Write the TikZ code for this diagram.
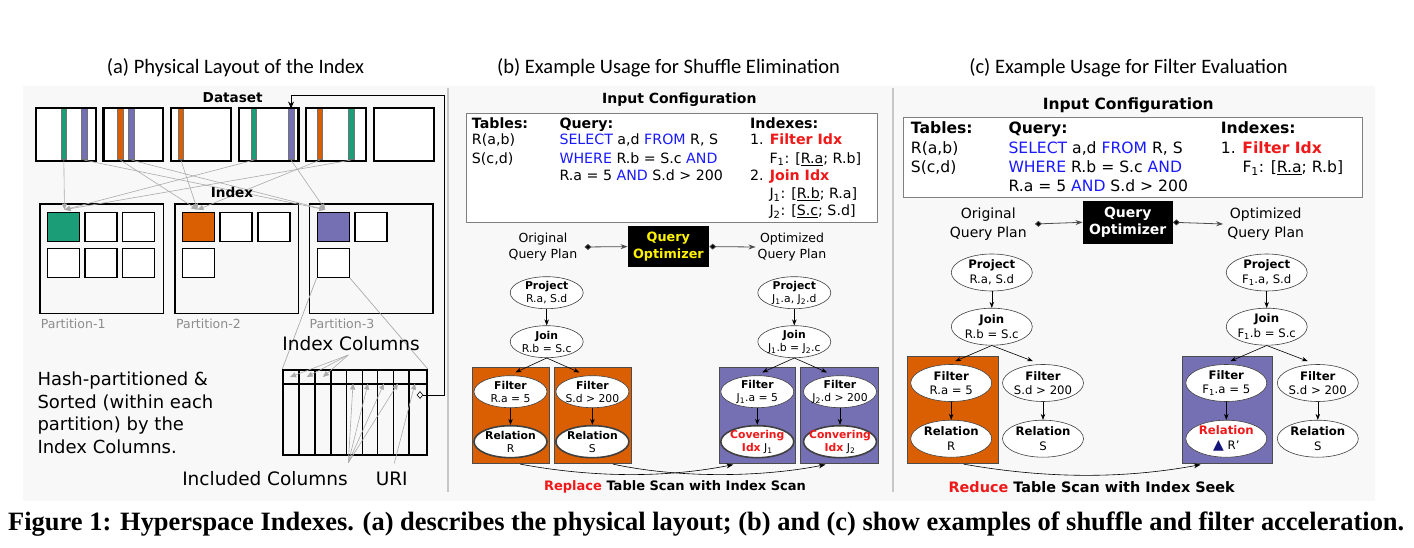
\documentclass[tikz,border=0pt]{standalone}
\usepackage{fontspec}
\setmainfont{DejaVu Sans}
\newfontfamily\titlefont{Carlito}
\newfontfamily\capfont{Liberation Serif}
\usetikzlibrary{shapes.geometric,arrows.meta,calc}
\definecolor{cgreen}{HTML}{1B9E77}
\definecolor{corange}{HTML}{D95F02}
\definecolor{cpurple}{HTML}{7570B3}
\definecolor{bgc}{HTML}{F8F8F8}
\definecolor{kwblue}{HTML}{1A1AFF}
\definecolor{kwred}{HTML}{F01818}
\definecolor{navyc}{HTML}{14147A}
\definecolor{gline}{HTML}{ABABAB}
\newcommand{\fsz}[2]{\fontsize{#1}{#2}\selectfont}
\begin{document}
\begin{tikzpicture}[x=1pt,y=-1pt,
  dbox/.style={draw=black, line width=1.5pt, fill=white, minimum width=59pt, minimum height=52pt, inner sep=0pt, anchor=north west},
  stripe/.style={draw=black!55, line width=0.6pt, minimum width=5.5pt, minimum height=51pt, inner sep=0pt, anchor=north west},
  pbox/.style={draw=black, line width=1.6pt, minimum width=123.5pt, minimum height=109.4pt, inner sep=0pt, anchor=north west},
  sq/.style={draw=black, line width=1.5pt, fill=white, minimum width=32pt, minimum height=29pt, inner sep=0pt, anchor=north west},
  garrow/.style={draw=gline, line width=0.6pt, -{Triangle[length=6pt,width=5pt]}},
  gline/.style={draw=gline, line width=0.7pt},
  txt/.style={anchor=base west, inner sep=0pt},
  ctr/.style={anchor=base, inner sep=0pt},
  ellb/.style={ellipse, draw=black!75, line width=0.6pt, fill=white, minimum width=73pt, minimum height=32pt, inner sep=0pt},
  lblb/.style={align=center, font=\fsz{10.8}{13.3}, inner sep=0pt},
  ellc/.style={ellipse, draw=black!75, line width=0.6pt, fill=white, minimum width=81pt, minimum height=37pt, inner sep=0pt},
  lblc/.style={align=center, font=\fsz{11.7}{14.7}, inner sep=0pt},
  obox/.style={draw=black!70, line width=0.8pt, fill=corange, anchor=north west, minimum width=77pt, minimum height=96.6pt, inner sep=0pt},
  ubox/.style={draw=black!70, line width=0.8pt, fill=cpurple, anchor=north west, minimum width=76.3pt, minimum height=96.6pt, inner sep=0pt},
  tarrow/.style={draw=black, line width=0.6pt, -{Stealth[length=6pt,width=4.5pt]}},
  qarrow/.style={draw=black!70, line width=0.8pt, {Diamond[length=7pt,width=6pt,fill=black]}-{Stealth[length=7pt,width=5pt]}},
  qopt/.style={fill=black, inner sep=0pt, align=center},
  cfgbox/.style={draw=black!50, line width=1pt, fill=white},
  scan/.style={draw=black, line width=0.6pt, -{Stealth[length=7pt,width=5pt]}}
]
\useasboundingbox (0,0) rectangle (1414,548);
% background
\fill[bgc] (23,86) rectangle (1375,501);
\draw[black!22, line width=1.5pt] (448,88) -- (448,492);
\draw[black!22, line width=1.5pt] (893,88) -- (893,492);

% titles
\node[ctr, font=\titlefont\fsz{20.5}{24}] (tA) at (235.5,74) {(a) Physical Layout of the Index};
\node[ctr, font=\titlefont\fsz{20.5}{24}] (tB) at (668.5,74) {(b) Example Usage for Shuffle Elimination};
\node[ctr, font=\titlefont\fsz{20.5}{24}] (tC) at (1128.5,74) {(c) Example Usage for Filter Evaluation};

% ================= Panel (a) =================
\foreach \i in {0,...,5} \node[dbox] (ds\i) at ({35.5+67.6*\i},108) {};
\node[stripe, fill=cgreen]  (g1) at (60.8,108.5) {};
\node[stripe, fill=cpurple] (p1) at (81.2,108.5) {};
\node[stripe, fill=corange] (o2) at (117.3,108.5) {};
\node[stripe, fill=cpurple] (p2) at (128.4,108.5) {};
\node[stripe, fill=corange] (o3) at (177.8,108.5) {};
\node[stripe, fill=cgreen]  (g4) at (250.7,108.5) {};
\node[stripe, fill=cpurple] (p4) at (288,108.5) {};
\node[stripe, fill=corange] (o5) at (316.8,108.5) {};
\node[stripe, fill=cgreen]  (g5) at (348,108.5) {};
\foreach \i in {0,...,5} \draw[line width=1.5pt] (ds\i.north west) rectangle (ds\i.south east);

\node[pbox] (P1) at (39,203.3) {};
\node[pbox] (P2) at (174,203.3) {};
\node[pbox] (P3) at (308.7,203.3) {};
% squares partition 1
\node[sq, fill=cgreen] (sG) at (46.7,211.7) {};
\node[sq] (s1b) at (84,211.7) {};
\node[sq] (s1c) at (121.7,211.7) {};
\node[sq] (s1d) at (46.7,247.7) {};
\node[sq] (s1e) at (84,247.7) {};
\node[sq] (s1f) at (121.7,247.7) {};
% partition 2
\node[sq, fill=corange] (sO) at (181.7,211.7) {};
\node[sq] (s2b) at (219.3,211.7) {};
\node[sq] (s2c) at (257,211.7) {};
\node[sq] (s2d) at (181.7,247.7) {};
% partition 3
\node[sq, fill=cpurple] (sP) at (316.5,211.7) {};
\node[sq] (s3b) at (354,211.7) {};
\node[sq] (sPb) at (316.5,247.7) {};

\coordinate (tG) at ($(sG.north)+(1,-2)$);
\coordinate (tO) at ($(sO.north)+(-1,-2)$);
\coordinate (tP) at ($(sP.north)+(-8,-2)$);
\draw[garrow] (g1.south) -- (tG);
\draw[garrow] (g4.south) -- (tG);
\draw[garrow] (g5.south) -- (tG);
\draw[garrow] (o2.south) -- (tO);
\draw[garrow] (o3.south) -- (tO);
\draw[garrow] (o5.south) -- (tO);
\draw[garrow] (p1.south) -- (tP);
\draw[garrow] (p2.south) -- (tP);
\draw[garrow] (p4.south) -- (tP);

\node[ctr, font=\bfseries\fsz{13.6}{16}] (dsT) at (232.7,102.7) {Dataset};
\node[ctr, font=\bfseries\fsz{13.6}{16}] (ixT) at (232,197.3) {Index};

\node[txt, font=\fsz{12.5}{15}, text=black!45] (lp1) at (40.7,328.3) {Partition-1};
\node[txt, font=\fsz{12.5}{15}, text=black!45] (lp2) at (176,328.3) {Partition-2};
\node[txt, font=\fsz{12.5}{15}, text=black!45] (lp3) at (309.5,328.3) {Partition-3};

% index table
\node[draw, line width=1.8pt, minimum width=143.7pt, minimum height=85pt, anchor=north west, inner sep=0pt] (itab) at (282.3,369) {};
\foreach \xx in {299,315,331,346.7,362.3,377.7,393.3,409} \draw[line width=1.4pt] (\xx,369) -- (\xx,454);
\draw[line width=1.4pt] (itab.west |- 0,384) -- (itab.east |- 0,384);
\draw[gline] (sPb.south west) -- (itab.north west);
\draw[gline] (sPb.south east) -- (itab.north east);

\node[ctr, font=\fsz{18.5}{22}] (icT) at (351,350.7) {Index Columns};
\node[ctr, font=\fsz{18.5}{22}] (inT) at (265,485) {Included Columns};
\node[ctr, font=\fsz{18.5}{22}] (uriT) at (391.7,485) {URI};
\coordinate (icS) at (348.3,355);
\coordinate (inS) at (348.3,462.7);
\coordinate (urS) at (394.3,463.3);
\foreach \xx in {290,306.7,323} \draw[garrow] (icS) -- (\xx,377);
\foreach \xx in {353,368,384,398} \draw[garrow] (inS) -- (\xx,383.5);
\draw[garrow] (urS) -- (415,383.5);

\node[diamond, draw=black, line width=0.6pt, fill=white, minimum width=6pt, minimum height=7pt, inner sep=0pt] (uriD) at (420,395) {};
\draw[line width=0.9pt, -{Stealth[length=7pt,width=6pt]}] (uriD.east) -- (444,395) |- (p4.north |- 0,95) -- (p4.north);

\node[txt, font=\fsz{18}{22.5}] (h1) at (37.3,385.7) {Hash-partitioned \&};
\node[txt, font=\fsz{18}{22.5}] (h2) at (37.3,408.2) {Sorted (within each};
\node[txt, font=\fsz{18}{22.5}] (h3) at (37.3,430.7) {partition) by the};
\node[txt, font=\fsz{18}{22.5}] (h4) at (37.3,453.2) {Index Columns.};

% ================= Panel (b) =================
\node[ctr, font=\bfseries\fsz{14}{17}] (icB) at (679.3,103.3) {Input Configuration};
\node[cfgbox, minimum width=411.6pt, minimum height=108.4pt, anchor=north west, inner sep=0pt] (cfgB) at (465.7,113.3) {};
\begin{scope}[every node/.append style={font=\fsz{14.2}{17}}]
\node[txt] (bT1) at (471.7,128.3) {\bfseries Tables:};
\node[txt] (bT2) at (471.7,145) {R(a,b)};
\node[txt] (bT3) at (471.7,163.3) {S(c,d)};
\node[txt] (bQ1) at (559.3,128.3) {\bfseries Query:};
\node[txt] (bQ2) at (559.3,145) {{\color{kwblue}SELECT} a,d {\color{kwblue}FROM} R, S};
\node[txt] (bQ3) at (559.3,163.3) {{\color{kwblue}WHERE} R.b = S.c {\color{kwblue}AND}};
\node[txt] (bQ4) at (559.3,180.7) {R.a = 5 {\color{kwblue}AND} S.d > 200};
\node[txt] (bI1) at (750,128.3) {\bfseries Indexes:};
\node[txt] (bI2) at (750,145) {1. {\bfseries\color{kwred}Filter Idx}};
\node[txt] (bI3) at (769.3,163.3) {F\textsubscript{1}: [\underline{R.a}; R.b]};
\node[txt] (bI4) at (750,180.7) {2. {\bfseries\color{kwred}Join Idx}};
\node[txt] (bI5) at (769.3,199) {J\textsubscript{1}: [\underline{R.b}; R.a]};
\node[txt] (bI6) at (769.3,216) {J\textsubscript{2}: [\underline{S.c}; S.d]};
\end{scope}

\node[qopt, minimum width=81.3pt, minimum height=41.3pt, font=\bfseries\fsz{12.8}{16.5}, text=yellow] (qoB) at (668.4,246.6) {Query\\Optimizer};
\node[align=center, inner sep=0pt, font=\fsz{12.5}{16.7}] (origB) at (543,247) {Original\\Query Plan};
\node[align=center, inner sep=0pt, font=\fsz{12.5}{16.7}] (optB) at (792,247) {Optimized\\Query Plan};
\draw[qarrow] ($(origB.east)+(7,0)$ |- qoB) -- (qoB.west);
\draw[qarrow] (qoB.east) -- ($(optB.west)+(-2,0)$ |- qoB);

% left tree b
\node[obox] (oB1) at (472.3,366.7) {};
\node[obox] (oB2) at (554,366.7) {};
\node[ellb, label={[lblb]center:{\textbf{Project}\\R.a, S.d}}] (pjBL) at (546.7,292.7) {};
\node[ellb, label={[lblb]center:{\textbf{Join}\\R.b = S.c}}] (jnBL) at (546.7,341.7) {};
\node[ellb, label={[lblb]center:{\textbf{Filter}\\R.a = 5}}] (flBL1) at (510.5,391.7) {};
\node[ellb, label={[lblb]center:{\textbf{Filter}\\S.d > 200}}] (flBL2) at (592.4,391.7) {};
\node[ellb, line width=1.6pt, label={[lblb]center:{\textbf{Relation}\\R}}] (rlBL1) at (510.5,441.7) {};
\node[ellb, line width=1.6pt, label={[lblb]center:{\textbf{Relation}\\S}}] (rlBL2) at (592.4,441.7) {};
\draw[tarrow] (pjBL.south) -- (jnBL.north);
\draw[tarrow] (jnBL.south) -- ($(flBL1.north)+(5,-3)$);
\draw[tarrow] (jnBL.south) -- ($(flBL2.north)+(-13,-3)$);
\draw[tarrow] (flBL1.south) -- (rlBL1.north);
\draw[tarrow] (flBL2.south) -- (rlBL2.north);

% right tree b
\node[ubox] (pB1) at (718.7,366.7) {};
\node[ubox, minimum width=77.7pt] (pB2) at (800.3,366.7) {};
\node[ellb, label={[lblb]center:{\textbf{Project}\\J\textsubscript{1}.a, J\textsubscript{2}.d}}] (pjBR) at (794.3,292.7) {};
\node[ellb, label={[lblb]center:{\textbf{Join}\\J\textsubscript{1}.b = J\textsubscript{2}.c}}] (jnBR) at (794.3,341.7) {};
\node[ellb, label={[lblb]center:{\textbf{Filter}\\J\textsubscript{1}.a = 5}}] (flBR1) at (757.3,391.7) {};
\node[ellb, label={[lblb]center:{\textbf{Filter}\\J\textsubscript{2}.d > 200}}] (flBR2) at (840,391.7) {};
\node[ellb, line width=1.6pt, label={[lblb]center:{\textbf{\color{kwred}Covering}\\{\bfseries\color{kwred}Idx} J\textsubscript{1}}}] (rlBR1) at (757.3,441.7) {};
\node[ellb, line width=1.6pt, label={[lblb]center:{\textbf{\color{kwred}Convering}\\{\bfseries\color{kwred}Idx} J\textsubscript{2}}}] (rlBR2) at (840,441.7) {};
\draw[tarrow] (pjBR.south) -- (jnBR.north);
\draw[tarrow] (jnBR.south) -- ($(flBR1.north)+(5,-3)$);
\draw[tarrow] (jnBR.south) -- ($(flBR2.north)+(-13,-3)$);
\draw[tarrow] (flBR1.south) -- (rlBR1.north);
\draw[tarrow] (flBR2.south) -- (rlBR2.north);

\draw[scan] ($(oB1.south)+(9,0)$) .. controls +(80,15) and +(-60,12) .. ($(pB1.south)+(-24,0.5)$);
\draw[scan] ($(oB2.south)+(20,0)$) .. controls +(70,15) and +(-60,12) .. ($(pB2.south)+(-14,0.5)$);
\node[ctr, font=\bfseries\fsz{13}{16}] (rpT) at (675,490) {{\color{kwred}Replace} Table Scan with Index Scan};

% ================= Panel (c) =================
\node[ctr, font=\bfseries\fsz{15.5}{18}] (icC) at (1128.3,110) {Input Configuration};
\node[cfgbox, minimum width=458.4pt, minimum height=79.4pt, anchor=north west, inner sep=0pt] (cfgC) at (903.3,117.3) {};
\begin{scope}[every node/.append style={font=\fsz{15.6}{19}}]
\node[txt] (cT1) at (910.7,133.3) {\bfseries Tables:};
\node[txt] (cT2) at (910.7,153.3) {R(a,b)};
\node[txt] (cT3) at (910.7,172.7) {S(c,d)};
\node[txt] (cQ1) at (1008.3,133.3) {\bfseries Query:};
\node[txt] (cQ2) at (1008.3,153.3) {{\color{kwblue}SELECT} a,d {\color{kwblue}FROM} R, S};
\node[txt] (cQ3) at (1008.3,172.7) {{\color{kwblue}WHERE} R.b = S.c {\color{kwblue}AND}};
\node[txt] (cQ4) at (1008.3,191.7) {R.a = 5 {\color{kwblue}AND} S.d > 200};
\node[txt] (cI1) at (1220.7,133.3) {\bfseries Indexes:};
\node[txt] (cI2) at (1220.7,153.3) {1. {\bfseries\color{kwred}Filter Idx}};
\node[txt] (cI3) at (1242.3,172.7) {F\textsubscript{1}: [\underline{R.a}; R.b]};
\end{scope}

\node[qopt, minimum width=90pt, minimum height=43.3pt, font=\bfseries\fsz{14}{17.7}, text=white] (qoC) at (1127.7,222.3) {Query\\Optimizer};
\node[align=center, inner sep=0pt, font=\fsz{14}{18.4}] (origC) at (988.3,224) {Original\\Query Plan};
\node[align=center, inner sep=0pt, font=\fsz{14}{18.4}] (optC) at (1265.7,224) {Optimized\\Query Plan};
\draw[qarrow] ($(origC.east)+(8,0)$ |- qoC) -- (qoC.west);
\draw[qarrow] (qoC.east) -- ($(optC.west)+(-4,0)$ |- qoC);

% left tree c
\node[obox, minimum width=91pt, minimum height=107.3pt] (oC) at (906.7,356) {};
\node[ellc, label={[lblc]center:{\textbf{Project}\\R.a, S.d}}] (pjCL) at (991.8,272.5) {};
\node[ellc, label={[lblc]center:{\textbf{Join}\\R.b = S.c}}] (jnCL) at (991.8,326.7) {};
\node[ellc, label={[lblc]center:{\textbf{Filter}\\R.a = 5}}] (flCL1) at (951.2,383) {};
\node[ellc, label={[lblc]center:{\textbf{Filter}\\S.d > 200}}] (flCL2) at (1043,383) {};
\node[ellc, label={[lblc]center:{\textbf{Relation}\\R}}] (rlCL1) at (951.2,438.7) {};
\node[ellc, label={[lblc]center:{\textbf{Relation}\\S}}] (rlCL2) at (1043,438.7) {};
\draw[tarrow] (pjCL.south) -- (jnCL.north);
\draw[tarrow] (jnCL.south) -- ($(flCL1.north)+(4,-3)$);
\draw[tarrow] (jnCL.south) -- ($(flCL2.north)+(-10,-3)$);
\draw[tarrow] (flCL1.south) -- (rlCL1.north);
\draw[tarrow] (flCL2.south) -- (rlCL2.north);

% right tree c
\node[ubox, minimum width=90pt, minimum height=107.3pt] (pC) at (1182.3,356) {};
\node[ellc, label={[lblc]center:{\textbf{Project}\\F\textsubscript{1}.a, S.d}}] (pjCR) at (1266.7,272.5) {};
\node[ellc, label={[lblc]center:{\textbf{Join}\\F\textsubscript{1}.b = S.c}}] (jnCR) at (1266.7,326.7) {};
\node[ellc, label={[lblc]center:{\textbf{Filter}\\F\textsubscript{1}.a = 5}}] (flCR1) at (1226.3,383) {};
\node[ellc, label={[lblc]center:{\textbf{Filter}\\S.d > 200}}] (flCR2) at (1317.8,383) {};
\node[ellc, label={[lblc]center:{\textbf{\color{kwred}Relation}\\{\color{navyc}\fsz{14}{14}▲} R'}}] (rlCR1) at (1226.3,438.7) {};
\node[ellc, label={[lblc]center:{\textbf{Relation}\\S}}] (rlCR2) at (1317.8,438.7) {};
\draw[tarrow] (pjCR.south) -- (jnCR.north);
\draw[tarrow] (jnCR.south) -- ($(flCR1.north)+(4,-3)$);
\draw[tarrow] (jnCR.south) -- ($(flCR2.north)+(-10,-3)$);
\draw[tarrow] (flCR1.south) -- (rlCR1.north);
\draw[tarrow] (flCR2.south) -- (rlCR2.north);

\draw[scan] ($(oC.south)+(11,0)$) .. controls +(90,16) and +(-70,13) .. ($(pC.south)+(-27,0.5)$);
\node[ctr, font=\bfseries\fsz{14.4}{17}] (rdT) at (1091.7,492.7) {{\color{kwred}Reduce} Table Scan with Index Seek};

% caption
\node[anchor=base west, inner sep=0pt] (cap) at (8,530) {\resizebox{1396pt}{!}{\capfont\bfseries Figure 1: Hyperspace Indexes. (a) describes the physical layout; (b) and (c) show examples of shuffle and filter acceleration.}};
\end{tikzpicture}
\end{document}
